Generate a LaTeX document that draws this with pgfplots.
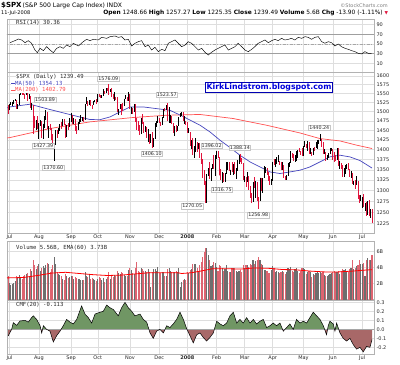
\documentclass[border=0pt]{standalone}
\usepackage{fontspec}
\setmainfont{DejaVu Sans}
\setmonofont{DejaVu Sans Mono}
\usepackage{pgfplots}
\usepackage{pgfplotstable}
\pgfplotsset{compat=1.18}
\definecolor{cdown}{RGB}{224,20,60}
\definecolor{maBlue}{RGB}{70,70,190}
\definecolor{maRed}{RGB}{255,80,80}
\definecolor{vdown}{RGB}{222,100,112}
\definecolor{vup}{RGB}{110,110,110}
\definecolor{gridc}{RGB}{222,222,222}
\definecolor{cmfpos}{RGB}{112,150,100}
\definecolor{cmfneg}{RGB}{168,104,104}
\definecolor{blogblue}{RGB}{0,0,220}
\definecolor{txt}{RGB}{40,40,40}

\pgfplotstableread{
d h l c v u
-1 1517 1494 1503.35 3.0 0
0 1519.9 1503.4 1519.43 2.1 1
1 1526 1519 1524.87 1.8 1
2 1526.6 1514.6 1525.40 2.0 1
3 1532.4 1520.5 1530.44 2.1 1
4 1534.3 1527.5 1531.85 2.3 1
5 1531.9 1510 1510.12 3.0 0
6 1519.5 1506 1518.76 2.8 1
7 1547.9 1518.7 1547.70 3.1 1
8 1555.1 1544.8 1552.50 2.7 1
9 1555.2 1546.7 1549.52 2.6 0
10 1555.9 1547.2 1549.37 3.0 0
11 1549.4 1533.7 1546.17 3.1 0
12 1555.9 1546.2 1553.08 3.2 1
13 1553.1 1529.2 1534.10 3.3 0
14 1547.2 1534.1 1541.57 3.0 1
15 1541.6 1508.6 1511.04 3.8 0
16 1524.3 1503.7 1518.09 3.6 1
17 1518.1 1440.2 1482.66 4.9 0
18 1488.5 1458.9 1458.95 4.3 0
19 1477.9 1449.6 1473.91 3.8 1
20 1488.3 1454.3 1455.27 4.2 0
21 1468.4 1427.4 1465.81 4.4 1
22 1476.4 1460.6 1472.20 3.6 1
23 1473.2 1432.8 1433.06 4.0 0
24 1467.7 1427.4 1467.67 4.2 1
25 1488.3 1455.8 1476.71 3.9 1
26 1503.9 1476.7 1497.49 4.3 1
27 1497.5 1453.1 1453.09 4.6 0
28 1462 1429.7 1453.64 4.5 1
29 1466.3 1451.5 1452.92 3.4 0
30 1456.7 1425.5 1426.54 3.8 0
31 1440.8 1404.4 1406.70 4.3 0
32 1415.9 1370.6 1411.27 5.3 1
33 1450.3 1411.3 1445.94 4.4 1
34 1451.8 1430.5 1445.55 3.4 0
35 1455 1439.8 1447.12 3.2 1
36 1466.6 1447.1 1464.07 3.1 1
37 1472.1 1452.5 1462.50 2.9 0
38 1479.4 1460.5 1479.37 2.6 1
39 1479.4 1465 1466.79 2.4 0
40 1466.8 1432 1432.36 3.2 0
41 1463.8 1432.4 1463.76 2.9 1
42 1468.4 1451.3 1457.64 2.7 0
43 1481.5 1457.6 1473.99 2.8 1
44 1496.4 1472.2 1489.42 2.9 1
45 1489.4 1466.1 1472.29 2.9 0
46 1481.5 1467.4 1478.55 2.6 1
47 1478.6 1449.1 1453.55 2.8 0
48 1462 1439.3 1451.70 2.7 0
49 1472.5 1451.7 1471.49 2.6 1
50 1479.5 1465.8 1471.56 2.6 1
51 1489.6 1471.6 1483.95 2.5 1
52 1486 1473.2 1484.25 2.4 1
53 1484.3 1471.8 1476.65 2.5 0
54 1519.9 1476.7 1519.78 3.4 1
55 1538.7 1519.8 1529.03 3.0 1
56 1529.1 1516.5 1518.75 2.8 0
57 1530.9 1518.8 1525.75 3.2 1
58 1530.9 1516.2 1517.73 2.6 0
59 1518.4 1507.1 1517.21 2.7 0
60 1529.4 1518.2 1525.42 2.6 1
61 1532.9 1525.4 1531.38 2.4 1
62 1533.7 1521 1526.75 2.3 0
63 1549 1526.8 1547.04 2.6 1
64 1548 1540.4 1546.63 2.8 0
65 1546.6 1536.2 1539.59 2.7 0
66 1544.8 1537.6 1542.84 2.4 1
67 1561.9 1542.8 1557.59 2.7 1
68 1557.6 1549 1552.58 2.2 0
69 1565.4 1551.8 1565.15 2.6 1
70 1565.3 1555.5 1562.47 2.8 0
71 1576.09 1546.7 1554.41 3.4 0
72 1563 1554.4 1561.80 2.6 1
73 1564.7 1540.8 1548.71 2.9 0
74 1548.7 1537.3 1538.53 2.8 0
75 1552.8 1529.4 1541.24 3.1 1
76 1541.1 1531.6 1540.08 2.9 0
77 1540.1 1500.3 1500.63 3.6 0
78 1508.1 1489.6 1506.33 3.3 1
79 1520.6 1506.3 1519.59 3.2 1
80 1519.6 1489.6 1515.88 3.5 0
81 1523.2 1500.5 1514.40 3.3 0
82 1535.3 1514.4 1535.28 3.1 1
83 1544.7 1535.3 1540.98 2.9 1
84 1541 1530.8 1531.02 3.0 0
85 1552.8 1529.4 1549.38 3.7 1
86 1549.4 1507.3 1508.44 3.9 0
87 1513.2 1492.5 1509.65 3.7 1
88 1510.8 1494 1502.17 3.3 0
89 1520.5 1499.1 1520.27 3.2 1
90 1520.3 1475.2 1475.62 3.9 0
91 1482.5 1450.3 1474.77 4.7 0
92 1474.8 1448.5 1453.70 3.6 0
93 1464.9 1438.5 1439.18 3.5 0
94 1481.4 1439.2 1481.05 4.0 1
95 1492.8 1466.5 1470.58 3.8 0
96 1472.7 1443.5 1451.15 3.6 0
97 1461 1445.3 1458.74 3.6 1
98 1458.7 1430.5 1433.27 3.4 0
99 1452.6 1419.3 1439.70 3.8 1
100 1439.7 1415.5 1416.77 3.4 0
101 1440.9 1416.8 1440.70 1.6 1
102 1446.1 1406.1 1407.22 3.5 0
103 1429.5 1407.4 1428.23 3.8 1
104 1469.8 1428.3 1469.02 3.8 1
105 1473.8 1458.4 1469.72 3.6 1
106 1488.9 1469.7 1481.14 4.1 1
107 1481.2 1470.1 1472.42 3.3 0
108 1472.4 1460.7 1462.79 3.3 0
109 1485.4 1462.8 1485.01 3.5 1
110 1508 1482.2 1507.34 3.4 1
111 1510.1 1502.4 1504.66 3.0 0
112 1518.3 1504.7 1515.96 2.9 1
113 1523.57 1475.6 1477.65 3.8 0
114 1511.8 1468.2 1486.59 4.0 1
115 1489.4 1469.2 1488.41 3.6 1
116 1488.4 1467.4 1467.95 3.4 0
117 1468 1445.1 1445.90 3.5 0
118 1460.2 1435.7 1454.98 3.4 1
119 1464.4 1445.3 1453.00 3.6 0
120 1461.2 1448 1460.12 3.4 1
121 1485.4 1460.1 1484.46 3.9 1
122 1497.1 1484.5 1496.45 1.6 1
123 1498.9 1488.2 1497.66 2.2 1
124 1497.7 1475.5 1476.27 2.5 0
125 1488.6 1467.2 1478.49 2.6 1
126 1475.8 1465.1 1468.36 2.5 0
127 1471.8 1442.1 1447.16 3.5 0
128 1456.8 1443.7 1447.16 3.3 1
129 1445.6 1411.2 1411.63 3.7 0
130 1423.9 1401.3 1416.18 3.8 1
131 1430.3 1388.3 1390.19 4.4 0
132 1409.2 1378.7 1409.13 4.5 1
133 1429 1395.3 1420.33 4.4 1
134 1419.9 1394.8 1401.02 3.9 0
135 1417.9 1401 1416.25 3.5 1
136 1416.3 1379.3 1380.95 4.3 0
137 1392 1364.3 1373.20 4.7 0
138 1377.7 1330.7 1333.25 5.3 0
139 1350.3 1312.5 1325.19 6.0 0
140 1322.5 1270.05 1310.50 6.4 0
141 1339.1 1270.1 1338.60 6.5 1
142 1355.2 1334.3 1352.07 5.6 1
143 1368.6 1327.5 1330.61 4.9 0
144 1354 1322.3 1353.96 4.2 1
145 1364.7 1350.8 1362.30 4.3 1
146 1385.9 1352.9 1355.81 4.7 0
147 1385.6 1334.1 1378.55 4.6 1
148 1396.02 1375.9 1395.42 4.1 1
149 1395.4 1379.7 1380.82 3.6 0
150 1380.8 1336.6 1336.64 4.3 0
151 1352 1324.3 1326.45 4.2 0
152 1345.6 1316.75 1336.91 4.0 1
153 1341.2 1321.1 1331.29 3.6 0
154 1341.4 1320.3 1339.13 3.8 1
155 1367.9 1339.1 1348.86 4.3 1
156 1369.7 1348.9 1367.21 3.6 1
157 1368.2 1347.3 1348.86 3.5 0
158 1350 1338.1 1349.99 3.5 1
159 1367.9 1345.6 1348.78 4.0 0
160 1363.7 1336.6 1360.03 4.0 1
161 1367.9 1339.3 1342.53 3.9 0
162 1354.6 1326.4 1353.11 3.6 1
163 1372.8 1345.7 1371.80 3.4 1
164 1387.3 1363.3 1381.29 3.6 1
165 1388.34 1368.2 1380.02 3.7 0
166 1380 1364.3 1367.68 3.5 0
167 1367.7 1325.4 1330.63 4.3 0
168 1335.1 1320 1331.34 3.9 1
169 1331.3 1307.4 1326.75 4.3 0
170 1344.2 1320.7 1333.70 4.3 1
171 1333.7 1303.7 1304.34 4.1 0
172 1309.7 1282.4 1293.37 4.5 0
173 1295 1272.7 1273.37 4.3 0
174 1320.7 1273.4 1320.65 5.0 1
175 1333.3 1307.9 1308.77 4.5 0
176 1321.7 1282.9 1315.48 4.8 1
177 1321.5 1274.9 1288.14 4.9 0
178 1283.9 1256.98 1276.60 5.3 0
179 1330.7 1276.6 1330.74 5.0 1
180 1331.1 1298.4 1298.42 4.4 0
181 1330.7 1295.2 1329.51 4.3 1
182 1359.7 1329.5 1349.88 3.7 1
183 1357.2 1341.2 1352.99 3.7 1
184 1353 1336.4 1341.13 3.6 0
185 1345.6 1325.7 1325.76 3.3 0
186 1334.9 1312.9 1315.22 3.3 0
187 1328.5 1312.8 1322.70 3.7 1
188 1370.2 1322.7 1370.18 4.2 1
189 1377 1360.9 1367.53 3.9 0
190 1375.7 1356.7 1369.31 3.4 1
191 1380.9 1362.8 1370.40 3.6 1
192 1386.7 1369 1372.54 3.5 1
193 1372.5 1360.6 1365.54 3.3 0
194 1368.4 1348.5 1354.49 3.4 0
195 1367.8 1350.1 1360.55 3.6 1
196 1360.6 1331.3 1332.83 3.4 0
197 1335.6 1324.4 1328.32 3.2 0
198 1337.7 1324.1 1334.43 3.5 1
199 1365.5 1334.4 1364.71 3.9 1
200 1368.4 1357.5 1365.56 3.8 1
201 1395.9 1365.6 1390.33 4.1 1
202 1390.3 1379.3 1388.17 3.6 0
203 1389.1 1371.3 1375.94 3.5 0
204 1387.4 1369.8 1379.93 3.8 1
205 1397.8 1371.1 1388.82 3.9 1
206 1399.1 1379.2 1397.84 3.6 1
207 1402.9 1394.4 1396.37 3.3 0
208 1397.1 1386.7 1390.94 3.6 0
209 1404.6 1384.4 1385.59 3.9 0
210 1410 1383.1 1409.34 4.0 1
211 1422.7 1406.3 1413.90 3.8 1
212 1415.3 1404.4 1407.49 3.2 0
213 1421.6 1397.1 1418.26 3.5 1
214 1419.6 1391.2 1392.57 3.6 0
215 1404.1 1389.3 1397.68 3.5 1
216 1394.2 1384.1 1388.28 2.8 0
217 1404.4 1386.2 1403.58 3.2 1
218 1406.3 1396.3 1403.04 3.1 0
219 1420.2 1403 1408.66 3.3 1
220 1424.4 1401 1423.57 3.4 1
221 1425.8 1414.6 1425.35 3.3 1
222 1440.24 1421.6 1426.63 3.5 1
223 1426.6 1406.9 1413.40 3.3 0
224 1419.7 1388.8 1390.71 3.4 0
225 1400.7 1388.7 1394.35 3.1 1
226 1394.4 1372 1375.93 2.9 0
227 1387.4 1373.1 1385.35 3.0 1
228 1391.3 1378.2 1390.84 3.1 1
229 1404.3 1387.9 1398.26 3.2 1
230 1404 1396.1 1400.38 3.3 1
231 1400.7 1372.9 1385.67 3.4 0
232 1393.1 1370.1 1377.65 3.6 0
233 1386 1370.6 1377.20 3.5 0
234 1405.1 1373.1 1404.05 3.4 1
235 1404.1 1359.9 1360.68 3.6 0
236 1370.6 1350.7 1361.76 3.2 1
237 1366.8 1351.5 1358.44 3.6 0
238 1360.5 1335.1 1335.49 3.8 0
239 1353.9 1331.8 1339.87 3.7 1
240 1360.7 1339.9 1360.03 3.8 1
241 1364.3 1352.1 1360.14 3.6 1
242 1366.6 1350.5 1350.93 3.5 0
243 1350.9 1333.4 1337.81 3.8 0
244 1346.1 1329.8 1342.83 4.0 1
245 1342.8 1314.8 1317.93 5.0 0
246 1323.5 1312.5 1318.00 3.8 1
247 1326 1304.2 1314.29 3.9 0
248 1335.6 1314.3 1321.97 4.2 1
249 1322 1283.1 1283.15 4.3 0
250 1289.5 1272 1278.38 4.9 0
251 1290.7 1274.9 1280.00 4.4 1
252 1285.7 1260.7 1284.91 4.5 1
253 1292.2 1261.5 1261.52 4.6 0
254 1272 1252 1262.90 2.9 1
255 1273.9 1240.7 1252.31 5.0 0
256 1274.6 1242.8 1273.70 5.2 1
257 1277.4 1244.6 1244.69 4.9 0
258 1257.7 1236.8 1253.39 5.0 1
259 1257.27 1225.35 1239.49 5.56 0
}\spx

\pgfplotstableread{
d v
0.35 52.7
3.9 56.9
6.3 60.3
8.7 58.2
11.1 52.7
13.4 56.9
15.8 51.4
18.2 37.6
19.9 32.1
21.8 41.1
24.2 36.3
26.5 44.5
28.9 37.6
31.3 32.1
33.7 41.1
36.1 44.5
38.4 41.1
40.8 47.9
43.2 44.5
45.6 51.4
49.2 45.9
52.7 54.8
55.1 59.6
57.5 56.9
59.9 59.6
63.4 58.2
65.8 63.7
69.4 61.7
71.8 65.1
75.4 66.5
77.7 63.7
80.1 65.1
82.5 58.2
84.9 59.6
87.3 45.9
89.6 51.4
92.0 54.8
94.4 56.9
96.8 44.5
99.2 47.9
101.5 37.6
103.9 43.1
106.3 34.2
108.7 39.0
111.1 36.3
113.4 51.4
115.8 54.8
118.2 58.2
120.6 51.4
123.0 44.5
125.4 47.9
127.7 54.8
130.1 51.4
132.5 44.5
134.9 37.6
137.3 41.1
139.6 33.0
142.0 27.3
144.4 33.0
146.8 37.6
149.2 41.1
151.5 44.5
153.9 47.9
156.3 37.6
158.7 41.1
161.1 44.5
163.4 51.4
165.8 44.5
168.2 37.6
170.6 34.2
173.0 39.0
175.3 44.5
177.7 51.4
180.1 54.8
182.5 58.2
184.9 52.7
187.3 56.9
189.6 59.6
192.0 56.9
194.4 61.7
196.8 58.2
199.2 59.6
201.5 61.7
203.9 58.2
206.3 63.7
208.7 61.7
211.1 65.1
213.4 63.7
215.8 59.6
218.2 63.7
220.6 65.1
223.0 54.8
225.3 51.4
227.7 54.8
230.1 52.7
232.5 45.9
234.9 50.0
237.2 44.5
239.6 41.1
242.0 39.0
244.4 36.3
246.8 34.2
249.2 30.8
251.5 29.4
253.9 34.2
256.3 30.8
258.7 30.4
}\rsi

\pgfplotstableread{
d v
-1 -0.074
1.5 0.0
2.7 0.074
5.1 0.044
7.5 0.093
11.1 0.1
13.4 0.08
15.8 0.13
17 0.15
19.4 0.11
21.8 0.04
23 -0.04
24.2 0.04
26.5 0.0
28.9 -0.02
31.3 -0.14
33.7 -0.07
36.1 -0.02
38.4 0.04
40.8 0.11
43.2 0.08
45.6 0.06
48 0.11
51.5 0.26
53.9 0.17
56.3 0.13
58.7 0.07
61.1 0.17
64.6 0.19
67 0.2
69.4 0.27
71.8 0.24
74.2 0.22
77.7 0.15
80.1 0.24
82.5 0.30
84.9 0.24
87.3 0.2
89.6 0.15
93.2 0.17
95.6 0.11
98 0.08
100.4 -0.04
102.7 -0.1
105.1 -0.02
107.5 0.0
109.9 -0.04
112.3 0.04
114.6 0.02
117 0.06
119.4 0.11
121.8 0.19
124.2 0.11
126.5 0.01
128.9 -0.07
131.3 -0.15
133.7 -0.06
136.1 -0.04
138.4 -0.09
140.8 -0.13
143.2 -0.09
145.6 -0.04
148 0.09
150.4 0.06
152.7 0.04
155.1 0.07
157.5 0.15
159.9 0.19
162.3 0.07
164.6 0.11
167 0.07
169.4 0.13
171.8 0.07
174.2 0.11
176.5 0.06
178.9 0.09
181.3 0.11
183.7 0.02
186.1 0.04
188.4 0.07
190.8 0.04
193.2 0.07
195.6 -0.02
198 0.02
200.3 0.06
202.7 0.0
205.1 0.11
207.5 0.07
209.9 0.09
212.3 0.07
214.6 0.13
217 0.19
219.4 0.15
221.8 0.11
224.2 0.04
226.5 -0.06
227.7 0.04
228.9 0.09
231.3 0.06
232.5 -0.02
233.7 0.07
236.1 -0.04
238.4 -0.1
240.8 -0.13
243.2 -0.1
245.6 -0.17
248 -0.22
250.4 -0.2
252.7 -0.25
255.1 -0.19
257.5 -0.2
259 -0.113
}\cmf

\pgfplotsset{
  upday/.style={restrict expr to domain={\thisrow{u}}{0.5:1.5}},
  downday/.style={restrict expr to domain={\thisrow{u}}{-0.5:0.5}},
  panel/.style={scale only axis, width=367pt, xmin=-1.8, xmax=260.4,
    axis line style={draw=gray!60, line width=0.4pt},
    major tick length=0pt,
    xtick={0,21,44,63,86,107,127,148,168,188,210,231,252},
    xmajorgrids, ymajorgrids,
    grid style={draw=gridc, line width=0.4pt},
    yticklabel pos=right,
    tick label style={font=\fontsize{5}{6}\selectfont, text=txt},
    /pgf/number format/assume math mode=true,
    yticklabel style={xshift=-1pt},
  },
  overlay/.style={scale only axis, width=367pt, xmin=-1.8, xmax=260.4, hide axis, anchor=north west},
  mlab/.style={xticklabels={Jul,Aug,Sep,Oct,Nov,Dec,\textbf{2008},Feb,Mar,Apr,May,Jun,Jul},
    xticklabel style={yshift=1.5pt}},
}

\begin{document}
\begin{tikzpicture}
\useasboundingbox (0,0) rectangle (400pt,-365pt);

% ---------- RSI ----------
\begin{axis}[panel, at={(7pt,-19pt)}, anchor=north west, height=53.5pt,
  ymin=-8.8, ymax=101.5, ytick={10,30,50,70,90}, xticklabels={}]
\draw[gray!75, line width=0.6pt] (axis cs:-5,70) -- (axis cs:265,70);
\draw[gray!75, line width=0.6pt] (axis cs:-5,30) -- (axis cs:265,30);
\draw[gray!70, line width=0.5pt, dash pattern=on 3pt off 1.5pt on 1pt off 1.5pt] (axis cs:-5,50) -- (axis cs:265,50);
\addplot[black, line width=0.45pt, mark=none] table[x=d, y=v] {\rsi};
\end{axis}

% ---------- Price ----------
\begin{axis}[panel, mlab, at={(7pt,-72.5pt)}, anchor=north west, height=160.5pt,
  ymode=log, ymin=1204, ymax=1610,
  ytick={1225,1250,1275,1300,1325,1350,1375,1400,1425,1450,1475,1500,1525,1550,1575,1600},
  yticklabels={1225,1250,1275,1300,1325,1350,1375,1400,1425,1450,1475,1500,1525,1550,1575,1600}]
\addplot[maRed, line width=0.7pt, mark=none] coordinates {
 (-1.8,1430) (0.4,1431) (28.9,1454.5) (57.5,1472.1) (88.2,1483.8) (112.5,1490)
 (136.1,1492) (159.6,1481.2) (183.9,1463) (207.5,1442.9) (221.8,1428.3)
 (236.1,1422.2) (248.2,1411.2) (259,1402.79)};
\addplot[maBlue, line width=0.7pt, mark=none] coordinates {
 (-1.8,1510) (0.4,1512.6) (14.6,1520) (28.9,1505.5) (43.2,1491.8) (57.5,1478.4)
 (64.6,1478) (71.8,1485.4) (78.9,1499) (86.1,1512.6) (95.4,1512.6) (105.4,1507.8)
 (114.6,1503.4) (123.9,1486.8) (136.1,1463.2) (143.2,1445.6) (150.4,1424)
 (157.5,1405.3) (164.6,1385.9) (171.8,1369.3) (178.9,1356.8) (186.1,1344.6)
 (193.2,1340.7) (200.4,1344.6) (207.5,1348.8) (214.6,1356.8) (221.8,1369.3)
 (228.9,1381.7) (236.1,1385.9) (243.2,1381.7) (250.4,1372.5) (259,1354.13)};
\addplot[draw=none, mark=none, upday,
  error bars/.cd, y dir=both, y explicit, error mark=none,
  error bar style={draw=black, line width=0.9pt, solid}]
  table[x=d, y=c, y error plus expr=\thisrow{h}-\thisrow{c}, y error minus expr=\thisrow{c}-\thisrow{l}] {\spx};
\addplot[draw=none, mark=none, downday,
  error bars/.cd, y dir=both, y explicit, error mark=none,
  error bar style={draw=cdown, line width=0.9pt, solid}]
  table[x=d, y=c, y error plus expr=\thisrow{h}-\thisrow{c}, y error minus expr=\thisrow{c}-\thisrow{l}] {\spx};
\begin{scope}[every node/.style={font=\fontsize{4.8}{5}\selectfont, text=txt, fill=white, draw=gray!45, line width=0.3pt, inner sep=0.8pt}]
\node at (axis cs:25.4,1532) {1503.89};
\node at (axis cs:24.1,1411) {1427.39};
\node at (axis cs:31.3,1355) {1370.60};
\node at (axis cs:70.6,1593) {1576.09};
\node at (axis cs:101.6,1390) {1406.10};
\node at (axis cs:112.3,1546) {1523.57};
\node at (axis cs:130.5,1263.7) {1270.05};
\node at (axis cs:144.4,1411) {1396.02};
\node at (axis cs:164.6,1405) {1388.34};
\node at (axis cs:151.6,1302) {1316.75};
\node at (axis cs:177.7,1243.3) {1256.98};
\node at (axis cs:221.3,1456) {1440.24};
\end{scope}
\end{axis}

% ---------- Volume ----------
\begin{axis}[panel, at={(7pt,-241.5pt)}, anchor=north west, height=58pt,
  ymin=0, ymax=7.25, ytick={2,4,6}, yticklabels={2B,4B,6B}, xticklabels={}]
\addplot[ycomb, draw=vup, line width=1.15pt, mark=none, upday] table[x=d, y=v] {\spx};
\addplot[ycomb, draw=vdown, line width=1.15pt, mark=none, downday] table[x=d, y=v] {\spx};
\addplot[red, line width=0.8pt, mark=none] coordinates {
 (-1.8,2.7) (10,2.75) (20,3.0) (30,3.3) (40,3.4) (50,3.25) (60,3.1) (70,3.0)
 (80,3.05) (90,3.2) (100,3.35) (110,3.35) (120,3.35) (123,3.25) (130,3.35)
 (138,3.6) (145,3.85) (155,3.85) (165,3.8) (175,3.95) (185,3.9) (195,3.75)
 (205,3.7) (215,3.55) (225,3.45) (235,3.45) (245,3.55) (252,3.65) (259,3.73)};
\end{axis}

% ---------- CMF: frame, grid and labels ----------
\begin{axis}[panel, mlab, at={(7pt,-300pt)}, anchor=north west, height=54pt,
  ymin=-0.274, ymax=0.326, ytick={-0.2,-0.1,0,0.1,0.2,0.3},
  yticklabels={-0.2,-0.1,0.0,0.1,0.2,0.3}]
\addplot[draw=none, mark=none] coordinates {(0,0) (1,0)};
\end{axis}
% positive part (axis spans 0 .. 0.326)
\begin{axis}[overlay, at={(7pt,-300pt)}, height=29.34pt, ymin=0, ymax=0.326]
\addplot[fill=cmfpos, draw=none, mark=none] table[x=d, y=v] {\cmf} \closedcycle;
\end{axis}
% negative part (axis spans 0 .. 0.274, drawn downwards)
\begin{axis}[overlay, at={(7pt,-329.34pt)}, height=24.66pt, ymin=0, ymax=0.274, y dir=reverse]
\addplot[fill=cmfneg, draw=none, mark=none, y filter/.expression={-y}] table[x=d, y=v] {\cmf} \closedcycle;
\end{axis}
% zero line and CMF line
\begin{axis}[overlay, at={(7pt,-300pt)}, height=54pt, ymin=-0.274, ymax=0.326]
\addplot[gray!70, line width=0.4pt, mark=none] coordinates {(-1.8,0) (260.4,0)};
\addplot[black, line width=0.5pt, mark=none] table[x=d, y=v] {\cmf};
\end{axis}

% ---------- texts ----------
\node[anchor=base west, inner sep=0, font=\fontsize{7}{8}\selectfont\bfseries] at (1pt,-7.5pt) {\$SPX};
\node[anchor=base west, inner sep=0, font=\fontsize{6.1}{7}\selectfont] at (22.5pt,-7.5pt) {(S\&P 500 Large Cap Index) INDX};
\node[anchor=base east, inner sep=0, font=\fontsize{5}{6}\selectfont, text=gray] at (388pt,-7.5pt) {©StockCharts.com};
\node[anchor=base west, inner sep=0, font=\fontsize{5}{6}\selectfont] at (1pt,-14pt) {11-Jul-2008};
\node[anchor=base east, inner sep=0, font=\fontsize{5.9}{6.5}\selectfont] at (383pt,-14pt) {\textbf{Open} 1248.66 \textbf{High} 1257.27 \textbf{Low} 1225.35 \textbf{Close} 1239.49 \textbf{Volume} 5.6B \textbf{Chg} -13.90 (-1.11\%)};
\node[anchor=base west, inner sep=0, font=\fontsize{4.5}{5}\selectfont, text=cdown] at (384.5pt,-14pt) {▼};

\node[anchor=base west, inner sep=0, font=\ttfamily\fontsize{5.6}{6}\selectfont, text=txt] at (16pt,-24.5pt) {RSI(14) 30.36};
\node[anchor=base west, inner sep=0.6pt, fill=white, font=\ttfamily\fontsize{5.6}{6}\selectfont, text=txt] at (15.4pt,-78.5pt) {\$SPX (Daily) 1239.49};
\node[anchor=base west, inner sep=0.6pt, fill=white, font=\ttfamily\fontsize{5.6}{6}\selectfont, text=maBlue] at (10.4pt,-85pt) {\rule[1.2pt]{4pt}{0.8pt}MA(50) 1354.13};
\node[anchor=base west, inner sep=0.6pt, fill=white, font=\ttfamily\fontsize{5.6}{6}\selectfont, text=maRed] at (10.4pt,-91.5pt) {\rule[1.2pt]{4pt}{0.8pt}MA(200) 1402.79};
\node[anchor=base west, inner sep=0, font=\ttfamily\fontsize{5.6}{6}\selectfont, text=txt] at (16pt,-249pt) {Volume 5.56B, EMA(60) 3.73B};
\node[anchor=base west, inner sep=0, font=\ttfamily\fontsize{5.6}{6}\selectfont, text=txt] at (16pt,-306pt) {CMF(20) -0.113};

\node[draw=blue!70!black, line width=0.8pt, fill=white, text=blogblue, font=\bfseries\fontsize{7.8}{8.5}\selectfont, inner sep=1pt] at (269pt,-87.2pt) {KirkLindstrom.blogspot.com};
\end{tikzpicture}
\end{document}
